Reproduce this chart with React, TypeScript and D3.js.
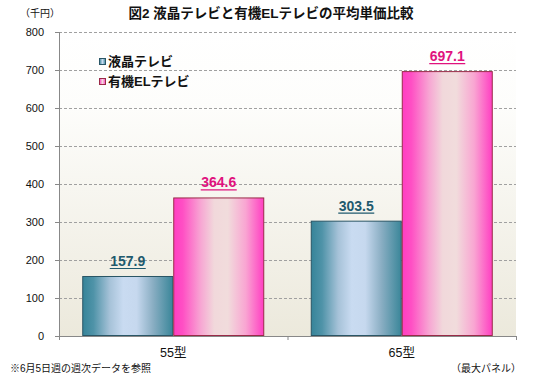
import React from "react";
import * as d3 from "d3";

const categories = ["55型", "65型"];
const seriesNames = ["液晶テレビ", "有機ELテレビ"];
const lcdValues = [157.9, 303.5];
const oledValues = [364.6, 697.1];
const yTicks = [0, 100, 200, 300, 400, 500, 600, 700, 800];

const W = 533;
const H = 380;
const FONT = "'Liberation Sans', 'Noto Sans CJK JP', sans-serif";

export default function App() {
  const left = 59;
  const right = 516;
  const top = 32;
  const bottom = 336;

  const x = d3.scaleBand<string>().domain(categories).range([left, right]).paddingInner(0.2035).paddingOuter(0.1017);
  const sub = d3.scaleBand<number>().domain([0, 1]).range([0, x.bandwidth()]);
  const y = d3.scaleLinear().domain([0, 800]).range([bottom, top]);

  const series = [
    { name: seriesNames[0], values: lcdValues, fill: "url(#gBlue)", stroke: "#2a5666", label: "#1f5a6e", sw: "url(#gBlueS)" },
    { name: seriesNames[1], values: oledValues, fill: "url(#gPink)", stroke: "#9a2a48", label: "#e0127e", sw: "url(#gPinkS)" },
  ];

  const step = (right - left) / categories.length;

  return (
    <svg width={W} height={H} style={{ position: "absolute", left: 0, top: 0, fontFamily: FONT }}>
      <defs>
        <linearGradient id="gBg" x1="0" y1="0" x2="0" y2="1">
          <stop offset="0" stopColor="#ffffff" />
          <stop offset="0.25" stopColor="#fdfdfb" />
          <stop offset="1" stopColor="#ece9dc" />
        </linearGradient>
        <linearGradient id="gBlue" x1="0" y1="0" x2="1" y2="0">
          <stop offset="0" stopColor="#368499" />
          <stop offset="0.12" stopColor="#4f93a8" />
          <stop offset="0.3" stopColor="#a6c2d8" />
          <stop offset="0.45" stopColor="#c9dbf1" />
          <stop offset="0.6" stopColor="#c6d8ee" />
          <stop offset="0.78" stopColor="#8aaec3" />
          <stop offset="1" stopColor="#3a8699" />
        </linearGradient>
        <linearGradient id="gPink" x1="0" y1="0" x2="1" y2="0">
          <stop offset="0" stopColor="#ff3ec2" />
          <stop offset="0.1" stopColor="#ff4fc4" />
          <stop offset="0.3" stopColor="#f7a6d3" />
          <stop offset="0.45" stopColor="#f1d8db" />
          <stop offset="0.6" stopColor="#f1dcdc" />
          <stop offset="0.8" stopColor="#f9a5d2" />
          <stop offset="1" stopColor="#ff3ec2" />
        </linearGradient>
        <linearGradient id="gBlueS" x1="0" y1="0" x2="1" y2="0">
          <stop offset="0" stopColor="#3a8699" />
          <stop offset="0.5" stopColor="#c9dbf1" />
          <stop offset="1" stopColor="#3a8699" />
        </linearGradient>
        <linearGradient id="gPinkS" x1="0" y1="0" x2="1" y2="0">
          <stop offset="0" stopColor="#ff3ec2" />
          <stop offset="0.5" stopColor="#f1dcdc" />
          <stop offset="1" stopColor="#ff3ec2" />
        </linearGradient>
      </defs>
      <rect x={0} y={0} width={W} height={H} fill="#ffffff" />
      <rect x={left} y={top} width={right - left} height={bottom - top} fill="url(#gBg)" />

      {/* grid */}
      {yTicks.filter((t) => t > 0).map((t) => (
        <line key={t} x1={left} x2={right} y1={y(t) + 0.5} y2={y(t) + 0.5} stroke="#a0a0a0" strokeDasharray="3,2" />
      ))}

      {/* bars */}
      {categories.map((c, ci) =>
        series.map((s, si) => {
          const bx = (x(c) as number) + (sub(si) as number);
          const by = y(s.values[ci]);
          return (
            <rect key={c + si} x={bx + 0.5} y={by + 0.5} width={sub.bandwidth() - 1} height={bottom - by - 1} fill={s.fill} stroke={s.stroke} strokeWidth={1} />
          );
        })
      )}

      {/* value labels */}
      {categories.map((c, ci) =>
        series.map((s, si) => {
          const cx = (x(c) as number) + (sub(si) as number) + sub.bandwidth() / 2;
          const by = y(s.values[ci]);
          const txt = s.values[ci].toFixed(1);
          return (
            <g key={"l" + c + si}>
              <text x={cx} y={by - 10} textAnchor="middle" fontSize={14} fontWeight="bold" fill={s.label}>{txt}</text>
              <line x1={cx - 18} x2={cx + 18} y1={by - 7.5} y2={by - 7.5} stroke={s.label} strokeWidth={1.2} />
            </g>
          );
        })
      )}

      {/* axes */}
      <line x1={left + 0.5} x2={left + 0.5} y1={top} y2={bottom} stroke="#888" />
      <line x1={left} x2={right} y1={bottom + 0.5} y2={bottom + 0.5} stroke="#888" />
      {yTicks.map((t) => (
        <g key={"t" + t}>
          <line x1={left - 4} x2={left} y1={y(t) + 0.5} y2={y(t) + 0.5} stroke="#888" />
          <text x={44} y={y(t) + 4} textAnchor="end" fontSize={11} fill="#111">{t}</text>
        </g>
      ))}
      {d3.range(categories.length + 1).map((i) => (
        <line key={"xt" + i} x1={left + i * step + 0.5} x2={left + i * step + 0.5} y1={bottom} y2={bottom + 4} stroke="#888" />
      ))}
      {categories.map((c) => (
        <text key={"c" + c} x={(x(c) as number) + x.bandwidth() / 2} y={357} textAnchor="middle" fontSize={12.5} fill="#111">{c}</text>
      ))}

      {/* legend */}
      {series.map((s, i) => (
        <g key={"lg" + i}>
          <rect x={99.5} y={58.5 + i * 20} width={6} height={6} fill={s.sw} stroke={s.stroke} />
          <text x={108} y={66 + i * 20} fontSize={13} fontWeight="bold" fill="#111">{s.name}</text>
        </g>
      ))}

      {/* titles */}
      <text x={271} y={18} textAnchor="middle" fontSize={13.5} fontWeight="bold" fill="#111">図2 液晶テレビと有機ELテレビの平均単価比較</text>
      <text x={20} y={17} fontSize={10} fill="#111">（千円）</text>
      <text x={10} y={372} fontSize={10} fill="#111">※6月5日週の週次データを参照</text>
      <text x={521} y={372} textAnchor="end" fontSize={10} fill="#111">（最大パネル）</text>
    </svg>
  );
}
